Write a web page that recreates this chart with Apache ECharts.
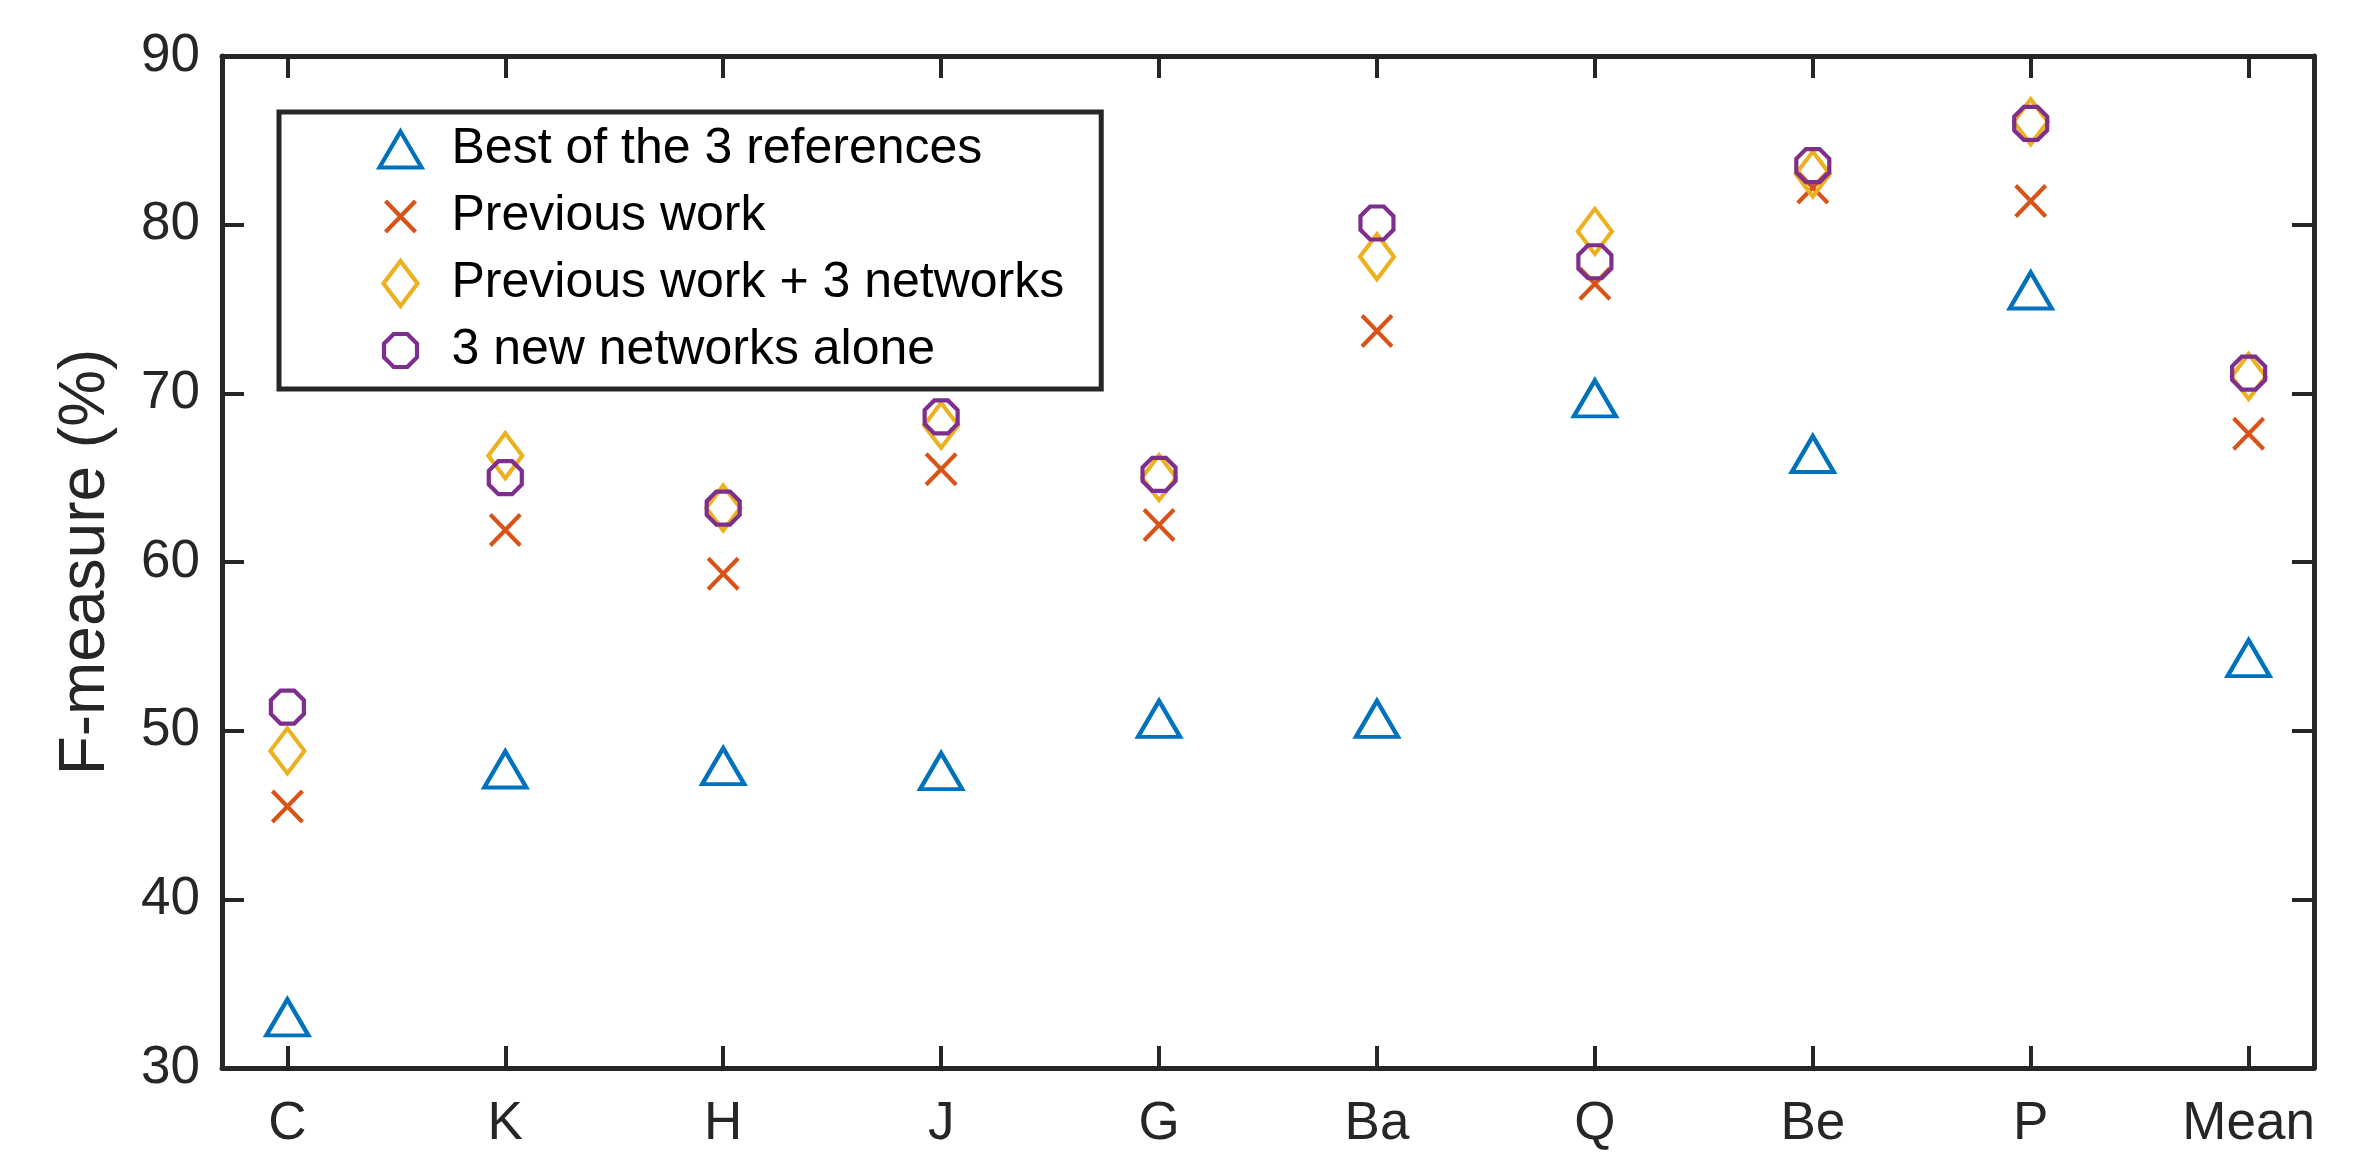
<!DOCTYPE html>
<html>
<head>
<meta charset="utf-8">
<title>F-measure per subject</title>
<script src="https://cdn.jsdelivr.net/npm/echarts@6/dist/echarts.min.js"></script>
<style>
  html, body { margin: 0; padding: 0; background: #ffffff; }
  #chart { width: 2366px; height: 1152px; }
</style>
</head>
<body>
<div id="chart"></div>
<script>
// Categories along the x axis
const categories = ['C', 'K', 'H', 'J', 'G', 'Ba', 'Q', 'Be', 'P', 'Mean'];

// F-measure (%) per method
const bestOf3References = [33.0, 47.7, 47.9, 47.6, 50.7, 50.7, 69.7, 66.4, 76.1, 54.3];
const previousWork = [45.5, 61.9, 59.3, 65.5, 62.2, 73.7, 76.5, 82.2, 81.4, 67.6];
const previousWorkPlus3 = [48.8, 66.3, 63.2, 68.1, 65.0, 78.1, 79.6, 83.0, 86.1, 71.0];
const newNetworksAlone = [51.4, 65.0, 63.2, 68.6, 65.2, 80.1, 77.8, 83.5, 86.0, 71.2];

// y axis ticks
const yTicks = [30, 40, 50, 60, 70, 80, 90];

const seriesNames = [
  'Best of the 3 references',
  'Previous work',
  'Previous work + 3 networks',
  '3 new networks alone'
];
const colors = ['#0072BD', '#D95319', '#EDB120', '#7E2F8E'];

const FONT = '"Liberation Sans", Arial, Helvetica, sans-serif';
const AXIS_COLOR = '#262626';
const tickPositions = categories.map((_, i) => i + 1);

// marker shapes
const OCTAGON = 'path://M92.4,38.3L38.3,92.4L-38.3,92.4L-92.4,38.3L-92.4,-38.3L-38.3,-92.4L38.3,-92.4L92.4,-38.3Z';
const CROSS = 'path://M0,0L10,10M10,0L0,10';
const markers = [
  { symbol: 'triangle', size: [42, 36] },
  { symbol: CROSS, size: [30, 31] },
  { symbol: 'diamond', size: [34, 45] },
  { symbol: OCTAGON, size: [33, 33] }
];

// legend icons laid out in a 92x46 frame so every entry shares one scale
const legendIcons = [
  'path://M0,0M92,46M46,5L67,41L25,41Z',
  'path://M0,0M92,46M31,7.5L61,38.5M61,7.5L31,38.5',
  'path://M0,0M92,46M46,0.5L63,23L46,45.5L29,23Z',
  'path://M0,0M92,46M62.5,29.84L52.84,39.5L39.16,39.5L29.5,29.84L29.5,16.16L39.16,6.5L52.84,6.5L62.5,16.16Z'
];

const values = [bestOf3References, previousWork, previousWorkPlus3, newNetworksAlone];

const LINE_W = 4.2;

function xAxisDef(position, showLabels) {
  return {
    type: 'value',
    position: position,
    min: 0.7,
    max: 10.3,
    splitLine: { show: false },
    axisLine: { show: true, onZero: false, lineStyle: { color: AXIS_COLOR, width: 5 } },
    axisTick: {
      show: true, inside: true, length: 22,
      customValues: tickPositions,
      lineStyle: { color: AXIS_COLOR, width: 4 }
    },
    axisLabel: {
      show: showLabels,
      customValues: tickPositions,
      formatter: v => categories[Math.round(v) - 1] || '',
      fontSize: 53, fontFamily: FONT, color: AXIS_COLOR, margin: 30
    }
  };
}

function yAxisDef(position, showLabels) {
  const def = {
    type: 'value',
    position: position,
    min: yTicks[0],
    max: yTicks[yTicks.length - 1],
    interval: 10,
    splitLine: { show: false },
    axisLine: { show: true, onZero: false, lineStyle: { color: AXIS_COLOR, width: 5 } },
    axisTick: { show: true, inside: true, length: 22, lineStyle: { color: AXIS_COLOR, width: 4 } },
    axisLabel: {
      show: showLabels,
      fontSize: 53, fontFamily: FONT, color: AXIS_COLOR, margin: 22,
      showMinLabel: true, showMaxLabel: true
    }
  };
  if (showLabels) {
    def.name = 'F-measure (%)';
    def.nameLocation = 'middle';
    def.nameRotate = 90;
    def.nameGap = 104;
    def.nameTextStyle = { fontSize: 64, fontFamily: FONT, color: AXIS_COLOR };
  }
  return def;
}

const chart = echarts.init(document.getElementById('chart'), null, { renderer: 'canvas' });

chart.setOption({
  animation: false,
  backgroundColor: '#ffffff',
  grid: { left: 222, right: 52, top: 56, bottom: 84, containLabel: false },
  xAxis: [xAxisDef('bottom', true), xAxisDef('top', false)],
  yAxis: [yAxisDef('left', true), yAxisDef('right', false)],
  legend: {
    orient: 'vertical',
    left: 279,
    top: 112,
    padding: [12, 37, 13, 73],
    itemWidth: 92,
    itemHeight: 46,
    itemGap: 16,
    symbolKeepAspect: true,
    backgroundColor: '#ffffff',
    borderColor: AXIS_COLOR,
    borderWidth: 5,
    borderRadius: 0,
    selectedMode: false,
    textStyle: { fontSize: 50, fontFamily: FONT, color: '#000000' },
    data: seriesNames.map((name, i) => ({
      name: name,
      icon: legendIcons[i],
      itemStyle: { color: 'none', borderColor: colors[i], borderWidth: LINE_W }
    }))
  },
  series: seriesNames.map((name, i) => ({
    name: name,
    type: 'scatter',
    xAxisIndex: 0,
    yAxisIndex: 0,
    symbol: markers[i].symbol,
    symbolSize: markers[i].size,
    symbolKeepAspect: false,
    itemStyle: { color: 'none', borderColor: colors[i], borderWidth: LINE_W, opacity: 1 },
    emphasis: { disabled: true },
    data: values[i].map((v, k) => [k + 1, v])
  }))
});
</script>
</body>
</html>
